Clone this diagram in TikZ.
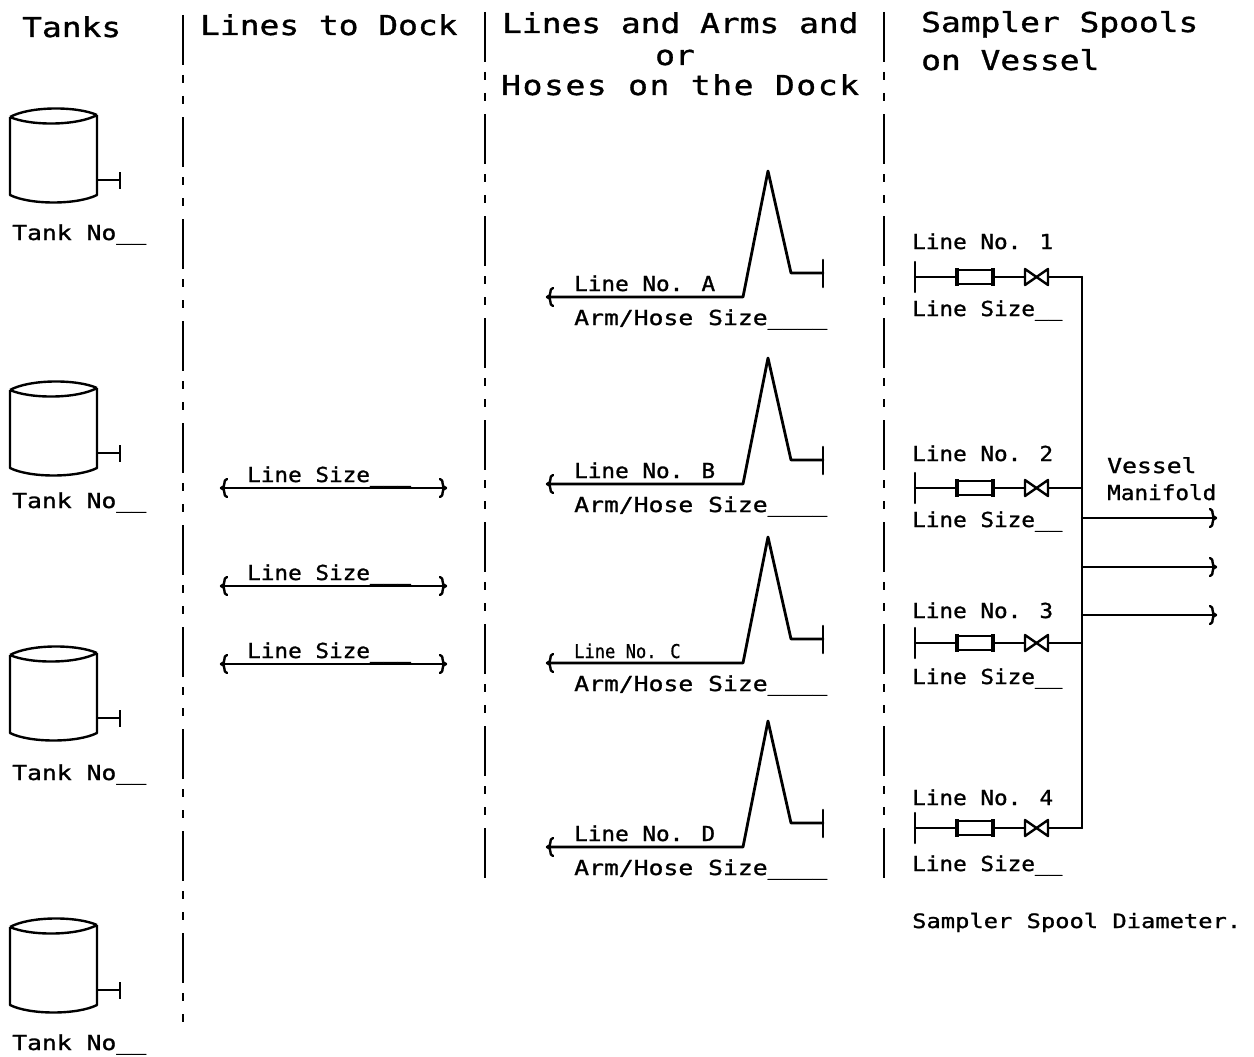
\documentclass[tikz,border=0pt]{standalone}
\usepackage{fontspec}
\newfontfamily\cadA[FakeStretch=1.2, FakeBold=1.2]{DejaVu Sans Mono}
\newfontfamily\cadB[FakeStretch=1.1, FakeBold=1.2]{DejaVu Sans Mono}
\newfontfamily\cadC[FakeStretch=0.9, FakeBold=0.8]{DejaVu Sans Mono}
\newfontfamily\cadW[FakeStretch=1.2, FakeBold=1.2, LetterSpace=6]{DejaVu Sans Mono}
\newcommand\hdrfont{\cadA\fontsize{27.4pt}{30pt}\selectfont}
\newcommand\hdrwfont{\cadW\fontsize{27.4pt}{30pt}\selectfont}
\newcommand\smafont{\cadA\fontsize{20.6pt}{24pt}\selectfont}
\newcommand\smbfont{\cadB\fontsize{20.6pt}{24pt}\selectfont}
\newcommand\smcfont{\cadC\fontsize{19pt}{22pt}\selectfont}
\tikzset{
  pipe/.style={line width=2.6pt, line cap=round, line join=round},
  thinpipe/.style={line width=2.2pt, line cap=round, line join=round},
  divider/.style={line width=2.8pt, dash pattern=on 50pt off 10pt on 8pt off 13pt on 8pt off 13pt},
  lbl/.style={inner sep=0pt, anchor=base west},
  hdr/.style={lbl, font=\hdrfont},
  sma/.style={lbl, font=\smafont},
  smb/.style={lbl, font=\smbfont},
  smc/.style={lbl, font=\smcfont},
  leftbreak/.pic={\draw[line width=2.4pt, line cap=round, line join=round] (5,-9) .. controls (0,-8) and (5,-1) .. (-1,0) .. controls (5,1) and (0,8) .. (5,9);},
  rightbreak/.pic={\draw[line width=2.4pt, line cap=round, line join=round] (-5,-9) .. controls (0,-8) and (-5,-1) .. (1,0) .. controls (-5,1) and (0,8) .. (-5,9);},
}
\begin{document}
\begin{tikzpicture}[x=1pt, y=-1pt]
\useasboundingbox (0,0) rectangle (1254,1057);

% dividers
\coordinate (d1t) at (183,15); \coordinate (d1b) at (183,1030);
\coordinate (d2t) at (485,12); \coordinate (d2b) at (485,880);
\coordinate (d3t) at (884,12); \coordinate (d3b) at (884,880);
\draw[divider] (d1t) -- (d1b);
\draw[divider] (d2t) -- (d2b);
\draw[divider] (d3t) -- (d3b);

% headers
\node[hdr] (hTanks) at (22,37) {Tanks};
\node[hdr] (hDock) at (200,35) {Lines to Dock};
\node[hdr] (hArms1) at (502,33) {Lines and Arms and};
\node[hdr, anchor=base] (hArms2) at (675,65) {or};
\node[lbl, font=\hdrwfont] (hArms3) at (501,95) {Hoses on the Dock};
\node[hdr] (hSpool1) at (921,32) {Sampler Spools};
\node[hdr] (hSpool2) at (921,70) {on Vessel};

% tanks
\foreach \n/\l [count=\i] in {180/240, 453/508, 718/780, 990/1050}{
  \draw[line width=2.4pt, line join=round]
    (10,\n-63) .. controls (30,\n-74) and (77,\n-74) .. (97,\n-65)
    (10,\n-63) .. controls (30,\n-54) and (77,\n-54) .. (97,\n-65)
    (10,\n-63) -- (10,\n+15) .. controls (30,\n+25) and (77,\n+25) .. (97,\n+15) -- (97,\n-65);
  \coordinate (tn\i a) at (97,\n);
  \coordinate (tn\i b) at (120,\n);
  \draw[line width=2.2pt] (tn\i a) -- (tn\i b);
  \draw[line width=2.2pt] (120,\n-8) -- (120,\n+9);
  \node[sma] (tl\i) at (12,\l) {Tank No\_\_};
}

% lines to dock
\foreach \y [count=\i] in {488,586,664}{
  \coordinate (dl\i) at (222,\y);
  \coordinate (dr\i) at (445,\y);
  \draw[pipe] (dl\i) -- (dr\i);
  \pic at (dl\i) {leftbreak};
  \pic at (dr\i) {rightbreak};
  \node[smb] (ds\i) at (247,\y-6) {Line Size\_\_\_};
}

% arms / hoses
\foreach \y/\name [count=\i] in {297/A, 484/B, 663/C, 847/D}{
  \coordinate (al\i) at (548,\y);
  \coordinate (ar\i) at (743,\y);
  \coordinate (ap\i) at (768,\y-126);
  \coordinate (as\i) at (791,\y-24);
  \coordinate (ae\i) at (823,\y-24);
  \draw[pipe, line width=2.8pt] (al\i) -- (ar\i) -- (ap\i) -- (as\i) -- (ae\i);
  \draw[pipe] (823,\y-37) -- (823,\y-10);
  \pic at (al\i) {leftbreak};
  \node[sma] (ah\i) at (574,\y+28) {Arm/Hose Size\_\_\_\_};
}
\node[smb] (an1) at (574,291) {Line No. A};
\node[smb] (an2) at (574,478) {Line No. B};
\node[smc] (an3) at (574,658) {Line No. C};
\node[smb] (an4) at (574,841) {Line No. D};

% sampler spools
\foreach \y/\la/\lb [count=\i] in {277/249/316, 488/461/527, 643/618/684, 828/805/871}{
  \coordinate (s\i a) at (915,\y);
  \coordinate (s\i b) at (957,\y);
  \coordinate (s\i c) at (993,\y);
  \coordinate (s\i d) at (1025,\y);
  \coordinate (s\i e) at (1048,\y);
  \coordinate (s\i f) at (1082,\y);
  \draw[thinpipe] (915,\y-15) -- (915,\y+15);
  \draw[thinpipe] (s\i a) -- (s\i b);
  \draw[line width=2.6pt] (957,\y-7) rectangle (993,\y+7);
  \draw[line width=3.6pt] (957,\y-9) -- (957,\y+9) (993,\y-9) -- (993,\y+9);
  \draw[thinpipe] (s\i c) -- (s\i d);
  \draw[line width=2.4pt, line join=round] (1025,\y-8) -- (1048,\y+8) -- (1048,\y-8) -- (1025,\y+8) -- cycle;
  \draw[thinpipe] (s\i e) -- (s\i f);
  \node[smb] (sn\i) at (912,\la) {Line No. \i};
  \node[smb] (sz\i) at (912,\lb) {Line Size\_\_};
}
\draw[thinpipe, line width=2.4pt] (s1f) -- (s4f);

% vessel manifold
\node[sma] (vm1) at (1107,473) {Vessel};
\node[smb] (vm2) at (1107,500) {Manifold};
\foreach \y [count=\i] in {518,567,615}{
  \coordinate (ml\i) at (1082,\y);
  \coordinate (mr\i) at (1215,\y);
  \draw[thinpipe, line width=2.4pt] (ml\i) -- (mr\i);
  \pic at (mr\i) {rightbreak};
}

\node[lbl, font=\cadA\fontsize{19.8pt}{22pt}\selectfont] (ssd) at (912,928) {Sampler Spool Diameter.};
\end{tikzpicture}
\end{document}
